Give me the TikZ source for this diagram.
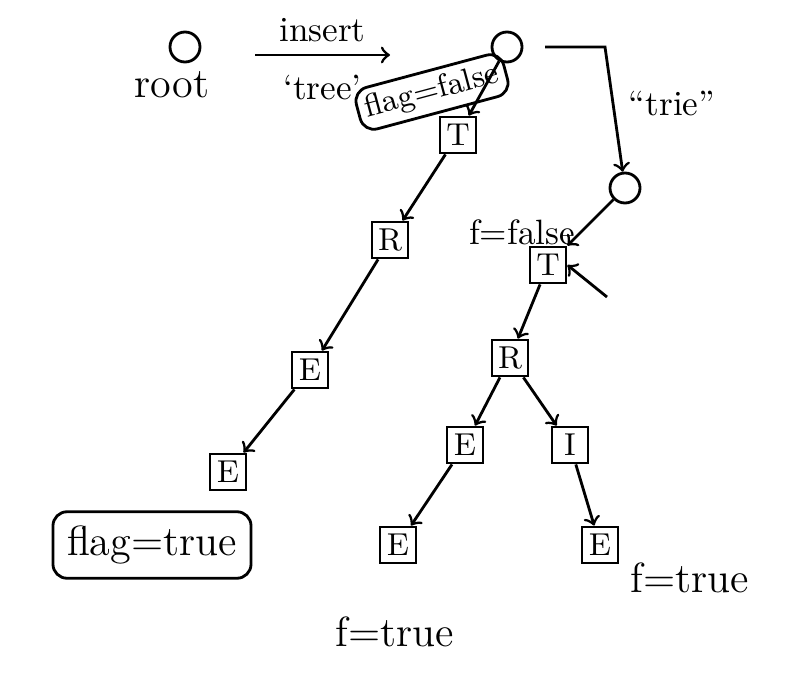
\documentclass[tikz,border=0pt]{standalone}
\usetikzlibrary{positioning}
\tikzset{
  letter/.style={draw, thick, minimum size=0.36cm, inner sep=1pt, font=\small},
  empty/.style={draw, thick, circle, minimum size=0.3cm, inner sep=0pt},
  flagbox/.style={draw, thick, rounded corners=4pt, inner sep=2pt},
  link/.style={->, thick}
}
\begin{document}
\begin{tikzpicture}[x=0.01cm, y=-0.01cm]
  \useasboundingbox (0,0) rectangle (800,685);
  % first insert: "tree"
  \node[empty] (root) at (185,47) {};
  \node[font=\large] at (172,85) {root};
  \coordinate (ins1) at (255,55);
  \coordinate (ins2) at (390,55);
  \draw[link] (ins1) -- (ins2) node[midway, above] {insert} node[midway, below=2pt] {`tree'};
  \node[empty] (top) at (507,47) {};
  \node[flagbox, rotate=15, font=\small] (ff1) at (432,92) {flag=false};
  \node[letter] (t1) at (458,135) {T};
  \node[letter] (r1) at (390,240) {R};
  \node[letter] (e1) at (310,370) {E};
  \node[letter] (e2) at (228,472) {E};
  \node[flagbox, font=\large, inner sep=4pt] (ft1) at (152,545) {flag=true};
  \draw[link] (top) -- (t1);
  \draw[link] (t1) -- (r1);
  \draw[link] (r1) -- (e1);
  \draw[link] (e1) -- (e2);
  % second insert: "trie"
  \coordinate (b1) at (545,47);
  \coordinate (b2) at (605,47);
  \node[empty] (top2) at (625,188) {};
  \draw[link] (b1) -- (b2) -- (top2);
  \node at (672,103) {``trie''};
  \node[letter] (t2) at (548,265) {T};
  \node at (522,232) {f=false};
  \node[letter] (r2) at (510,358) {R};
  \node[letter] (e3) at (465,445) {E};
  \node[letter] (i1) at (570,445) {I};
  \node[letter] (e4) at (398,545) {E};
  \node[letter] (e5) at (600,545) {E};
  \node[font=\large] at (395,632) {f=true};
  \node[font=\large] at (690,578) {f=true};
  \coordinate (back) at (607,297);
  \draw[link] (top2) -- (t2);
  \draw[link] (back) -- (t2.east);
  \draw[link] (t2) -- (r2);
  \draw[link] (r2) -- (e3);
  \draw[link] (r2) -- (i1);
  \draw[link] (e3) -- (e4);
  \draw[link] (i1) -- (e5);
\end{tikzpicture}
\end{document}
